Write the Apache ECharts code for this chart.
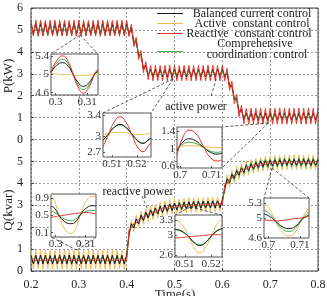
<!DOCTYPE html>
<html><head><meta charset="utf-8">
<script src="https://cdn.jsdelivr.net/npm/echarts@6/dist/echarts.min.js"></script>
<style>html,body{margin:0;padding:0;background:#fff}#c{width:327px;height:296px}</style>
</head><body><div id="c"></div>
<script>
// ---------- main plot data (t in s, P in kW, Q in kvar) ----------
const time = [
0.2,0.205,0.21,0.215,0.22,0.225,0.23,0.235,0.24,0.245,
0.25,0.255,0.26,0.265,0.27,0.275,0.28,0.285,0.29,0.295,
0.3,0.305,0.31,0.315,0.32,0.325,0.33,0.335,0.34,0.345,
0.35,0.355,0.36,0.365,0.37,0.375,0.38,0.385,0.39,0.395,
0.4,0.405,0.41,0.415,0.42,0.425,0.43,0.435,0.44,0.445,
0.45,0.455,0.46,0.465,0.47,0.475,0.48,0.485,0.49,0.495,
0.5,0.505,0.51,0.515,0.52,0.525,0.53,0.535,0.54,0.545,
0.55,0.555,0.56,0.565,0.57,0.575,0.58,0.585,0.59,0.595,
0.6,0.605,0.61,0.615,0.62,0.625,0.63,0.635,0.64,0.645,
0.65,0.655,0.66,0.665,0.67,0.675,0.68,0.685,0.69,0.695,
0.7,0.705,0.71,0.715,0.72,0.725,0.73,0.735,0.74,0.745,
0.75,0.755,0.76,0.765,0.77,0.775,0.78,0.785,0.79,0.795,
0.8];

const pReactive = [
5.44,4.72,5.45,4.71,5.44,4.72,5.43,4.73,5.44,4.72,
5.45,4.71,5.44,4.72,5.44,4.73,5.43,4.72,5.44,4.71,
5.45,4.72,5.44,4.72,5.43,4.73,5.44,4.72,5.45,4.71,
5.44,4.72,5.44,4.73,5.43,4.72,5.44,4.71,5.45,4.72,
5.44,4.70,5.26,4.24,4.66,3.64,4.06,3.05,3.55,2.73,
3.38,2.68,3.38,2.69,3.37,2.68,3.38,2.68,3.39,2.69,
3.38,2.68,3.37,2.68,3.38,2.69,3.38,2.68,3.37,2.68,
3.38,2.69,3.38,2.68,3.39,2.68,3.38,2.69,3.37,2.68,
3.38,2.68,3.25,2.25,2.66,1.64,2.06,1.04,1.56,0.72,
1.42,0.70,1.43,0.71,1.42,0.70,1.43,0.70,1.42,0.71,
1.43,0.70,1.42,0.70,1.43,0.71,1.42,0.70,1.43,0.70,
1.42,0.71,1.43,0.70,1.42,0.70,1.43,0.71,1.42,0.70,
1.43];
const pBalanced = [
5.27,4.83,5.27,4.83,5.28,4.82,5.27,4.83,5.27,4.84,
5.27,4.83,5.26,4.83,5.27,4.83,5.28,4.82,5.27,4.83,
5.27,4.83,5.27,4.84,5.27,4.83,5.26,4.83,5.27,4.83,
5.28,4.82,5.27,4.83,5.27,4.83,5.27,4.84,5.27,4.83,
5.27,4.83,5.08,4.42,4.50,3.80,3.90,3.20,3.39,2.90,
3.21,2.85,3.21,2.85,3.22,2.85,3.21,2.84,3.21,2.85,
3.21,2.85,3.20,2.85,3.21,2.85,3.22,2.85,3.21,2.84,
3.21,2.85,3.21,2.85,3.20,2.85,3.21,2.85,3.22,2.85,
3.21,2.85,3.08,2.42,2.48,1.82,1.88,1.22,1.38,0.91,
1.22,0.88,1.22,0.88,1.23,0.88,1.22,0.87,1.22,0.88,
1.22,0.88,1.22,0.88,1.23,0.88,1.22,0.88,1.22,0.87,
1.22,0.88,1.22,0.88,1.22,0.88,1.23,0.88,1.22,0.88,
1.22];
const pComprehensive = [
5.35,4.75,5.35,4.75,5.36,4.74,5.35,4.75,5.35,4.76,
5.35,4.75,5.34,4.75,5.35,4.75,5.36,4.74,5.35,4.75,
5.35,4.75,5.35,4.76,5.35,4.75,5.34,4.75,5.35,4.75,
5.36,4.74,5.35,4.75,5.35,4.75,5.35,4.76,5.35,4.75,
5.35,4.76,5.18,4.34,4.55,3.80,3.90,3.22,3.38,2.91,
3.20,2.86,3.20,2.86,3.21,2.86,3.20,2.85,3.20,2.86,
3.20,2.86,3.19,2.86,3.20,2.86,3.21,2.86,3.20,2.85,
3.20,2.86,3.20,2.86,3.19,2.86,3.20,2.86,3.21,2.86,
3.20,2.86,3.07,2.43,2.45,1.85,1.83,1.27,1.32,0.96,
1.16,0.94,1.16,0.94,1.17,0.94,1.16,0.93,1.16,0.94,
1.16,0.94,1.16,0.94,1.17,0.94,1.16,0.94,1.16,0.93,
1.16,0.94,1.16,0.94,1.16,0.94,1.17,0.94,1.16,0.94,
1.16];
const pActive = [
5.03,4.99,5.03,4.99,5.04,4.99,5.03,4.98,5.03,4.99,
5.03,4.99,5.02,4.99,5.03,4.99,5.04,4.99,5.03,4.98,
5.03,4.99,5.03,4.99,5.03,4.98,5.02,4.99,5.03,4.99,
5.04,4.99,5.03,4.99,5.03,4.98,5.03,4.99,5.03,4.99,
5.03,5.00,4.90,4.60,4.32,4.00,3.72,3.40,3.22,3.07,
3.07,3.03,3.07,3.03,3.08,3.03,3.07,3.02,3.07,3.03,
3.07,3.03,3.06,3.03,3.07,3.03,3.08,3.03,3.07,3.02,
3.07,3.03,3.07,3.03,3.06,3.03,3.07,3.03,3.08,3.03,
3.07,3.03,2.92,2.60,2.32,2.00,1.72,1.40,1.22,1.06,
1.08,1.04,1.08,1.04,1.09,1.04,1.08,1.03,1.08,1.04,
1.08,1.04,1.08,1.04,1.09,1.04,1.08,1.04,1.08,1.03,
1.08,1.04,1.08,1.04,1.08,1.04,1.09,1.04,1.08,1.04,
1.08];

const qActive = [
0.95,0.09,0.96,0.09,0.95,0.08,0.95,0.09,0.94,0.09,
0.95,0.09,0.95,0.10,0.96,0.09,0.95,0.09,0.95,0.08,
0.95,0.09,0.94,0.09,0.95,0.09,0.96,0.09,0.95,0.10,
0.95,0.09,0.95,0.08,0.95,0.09,0.94,0.09,0.95,0.09,
0.96,1.52,2.33,1.79,2.55,1.98,2.72,2.13,2.85,2.25,
2.96,2.35,3.05,2.43,3.13,2.50,3.19,2.55,3.23,2.59,
3.27,2.62,3.29,2.64,3.31,2.66,3.33,2.67,3.34,2.68,
3.35,2.69,3.36,2.70,3.36,2.71,3.37,2.71,3.38,2.72,
3.38,3.57,4.38,3.84,4.60,4.03,4.77,4.18,4.90,4.30,
5.01,4.39,5.09,4.46,5.15,4.52,5.20,4.56,5.23,4.58,
5.25,4.60,5.27,4.61,5.28,4.62,5.29,4.63,5.29,4.63,
5.29,4.63,5.30,4.63,5.29,4.62,5.29,4.63,5.29,4.63,
5.29];
const qBalanced = [
0.72,0.32,0.72,0.31,0.73,0.32,0.72,0.32,0.71,0.32,
0.72,0.32,0.72,0.33,0.72,0.32,0.73,0.31,0.72,0.32,
0.72,0.32,0.71,0.32,0.72,0.32,0.72,0.33,0.72,0.32,
0.73,0.32,0.72,0.31,0.72,0.32,0.72,0.32,0.72,0.32,
0.72,1.69,2.16,1.96,2.38,2.15,2.55,2.30,2.68,2.42,
2.79,2.52,2.88,2.60,2.96,2.67,3.02,2.72,3.06,2.76,
3.10,2.79,3.12,2.81,3.14,2.83,3.16,2.84,3.17,2.85,
3.18,2.86,3.19,2.87,3.19,2.88,3.20,2.88,3.21,2.89,
3.21,3.77,4.18,4.04,4.40,4.23,4.57,4.38,4.70,4.50,
4.81,4.59,4.89,4.66,4.95,4.72,5.00,4.76,5.03,4.78,
5.05,4.80,5.07,4.81,5.08,4.82,5.09,4.83,5.09,4.83,
5.09,4.83,5.09,4.83,5.10,4.83,5.09,4.82,5.09,4.83,
5.09];
const qComprehensive = [
0.62,0.41,0.62,0.41,0.63,0.41,0.62,0.40,0.62,0.41,
0.62,0.41,0.61,0.41,0.62,0.41,0.63,0.41,0.62,0.40,
0.62,0.41,0.62,0.41,0.62,0.40,0.61,0.41,0.62,0.41,
0.63,0.41,0.62,0.41,0.62,0.40,0.62,0.41,0.62,0.41,
0.62,1.70,2.15,1.97,2.37,2.16,2.54,2.31,2.67,2.43,
2.78,2.53,2.87,2.61,2.95,2.68,3.01,2.73,3.05,2.77,
3.09,2.80,3.11,2.82,3.13,2.84,3.15,2.85,3.16,2.86,
3.17,2.87,3.18,2.88,3.18,2.89,3.19,2.89,3.20,2.90,
3.20,3.70,4.25,3.97,4.47,4.16,4.64,4.31,4.77,4.43,
4.88,4.52,4.96,4.59,5.02,4.65,5.07,4.69,5.10,4.71,
5.12,4.73,5.14,4.74,5.15,4.75,5.16,4.76,5.16,4.76,
5.16,4.76,5.17,4.76,5.16,4.75,5.16,4.76,5.16,4.76,
5.16];
const qReactive = [
0.47,0.55,0.47,0.55,0.48,0.55,0.47,0.54,0.47,0.55,
0.47,0.55,0.46,0.55,0.47,0.55,0.48,0.55,0.47,0.54,
0.47,0.55,0.47,0.55,0.47,0.54,0.46,0.55,0.47,0.55,
0.48,0.55,0.47,0.55,0.47,0.54,0.47,0.55,0.47,0.55,
0.47,1.89,1.96,2.16,2.18,2.35,2.35,2.50,2.48,2.62,
2.59,2.72,2.68,2.80,2.76,2.87,2.82,2.92,2.86,2.96,
2.90,2.99,2.92,3.01,2.94,3.03,2.96,3.04,2.97,3.05,
2.98,3.06,2.99,3.07,2.99,3.08,3.00,3.08,3.01,3.09,
3.01,3.94,4.01,4.21,4.23,4.40,4.40,4.55,4.53,4.67,
4.64,4.76,4.72,4.83,4.78,4.89,4.83,4.93,4.86,4.95,
4.88,4.97,4.90,4.98,4.91,4.99,4.92,5.00,4.92,5.00,
4.92,5.00,4.92,5.00,4.92,5.00,4.92,5.00,4.92,5.00,
4.92];

// main axis tick labels (P panel above Q panel on one shared scale)
const yTickLabels = ['0','1','2','3','4','5','0','1','2','3','4','5','6'];
const legendNames = ['Balanced current control','Active  constant control','Reactive  constant control','Comprehensive','coordination  control'];

// ---------- zoom insets ----------
const i1Time = [0.2985,0.3003,0.3022,0.3040,0.3055,0.3071,0.3088,0.3106,0.3125,0.3135];
const i1Reactive = [5.06,5.30,5.41,5.28,5.02,4.73,4.59,4.72,5.02,5.12];
const i1Comprehensive = [5.05,5.25,5.33,5.23,5.01,4.78,4.67,4.77,5.01,5.09];
const i1Balanced = [5.04,5.20,5.26,5.18,5.01,4.83,4.74,4.82,5.01,5.07];
const i1Active = [5.02,5.01,5.00,5.00,4.99,4.98,4.98,4.99,5.01,5.02];
const i1XTicks = [0.3,0.31], i1YTicks = [4.6,5,5.4];

const i2Time = [0.5065,0.5087,0.5110,0.5133,0.5156,0.5180,0.5203,0.5225,0.5245,0.5257];
const i2Reactive = [2.80,3.03,3.27,3.37,3.27,3.03,2.79,2.70,2.80,2.88];
const i2Comprehensive = [2.92,3.04,3.16,3.21,3.16,3.04,2.92,2.87,2.92,2.96];
const i2Balanced = [2.92,3.04,3.17,3.22,3.17,3.04,2.91,2.86,2.92,2.96];
const i2Active = [3.03,3.05,3.07,3.07,3.06,3.04,3.03,3.03,3.04,3.05];
const i2XTicks = [0.51,0.52], i2YTicks = [2.7,3,3.4];

const i3Time = [0.6990,0.7008,0.7028,0.7050,0.7073,0.7096,0.7120,0.7133];
const i3Reactive = [0.85,1.25,1.43,1.35,1.07,0.80,0.72,0.76];
const i3Comprehensive = [1.00,1.10,1.15,1.12,1.04,0.95,0.92,0.94];
const i3Balanced = [0.95,1.15,1.23,1.18,1.04,0.92,0.88,0.90];
const i3Active = [1.05,1.06,1.07,1.07,1.05,1.04,1.03,1.04];
const i3XTicks = [0.7,0.71], i3YTicks = [0.6,1,1.4];

const i4Time = [0.2985,0.2998,0.3010,0.3030,0.3050,0.3068,0.3083,0.3104,0.3125,0.3135];
const i4Active = [0.95,0.82,0.52,0.20,0.08,0.20,0.52,0.85,0.95,0.93];
const i4Balanced = [0.72,0.66,0.52,0.36,0.31,0.36,0.52,0.68,0.73,0.72];
const i4Comprehensive = [0.60,0.57,0.51,0.42,0.38,0.42,0.52,0.60,0.62,0.61];
const i4Reactive = [0.46,0.47,0.49,0.51,0.53,0.55,0.56,0.57,0.55,0.53];
const i4XTicks = [0.3,0.31], i4YTicks = [0.1,0.5,0.9];

const i5Time = [0.5063,0.5080,0.5098,0.5115,0.5136,0.5157,0.5178,0.5200,0.5222,0.5241];
const i5Active = [3.30,3.26,3.15,2.97,2.75,2.65,2.75,2.98,3.22,3.32];
const i5Balanced = [3.12,3.10,3.05,2.97,2.85,2.80,2.85,2.98,3.09,3.13];
const i5Comprehensive = [3.11,3.09,3.04,2.97,2.86,2.81,2.86,2.98,3.08,3.12];
const i5Reactive = [2.95,2.95,2.96,2.97,2.98,2.99,3.00,3.01,3.01,3.01];
const i5XTicks = [0.51,0.52], i5YTicks = [2.6,3,3.3];

const i6Time = [0.6986,0.7004,0.7022,0.7043,0.7065,0.7085,0.7105,0.7120,0.7129];
const i6Active = [5.29,5.18,4.95,4.72,4.64,4.72,4.97,5.13,5.20];
const i6Comprehensive = [5.16,5.08,4.94,4.79,4.73,4.79,4.96,5.07,5.12];
const i6Balanced = [5.08,5.03,4.94,4.83,4.79,4.83,4.96,5.03,5.06];
const i6Reactive = [4.96,4.95,4.94,4.95,4.97,4.99,5.00,5.02,5.03];
const i6XTicks = [0.7,0.71], i6YTicks = [4.6,5,5.3];

// points on the main curves that each inset magnifies (t, value)
const zoomSpots = [[0.3025,4.77],[0.497,2.76],[0.696,0.75],[0.296,0.95],[0.533,2.92],[0.704,4.70]];

// ---------- build ----------
const F = '"Liberation Serif","Times New Roman",serif';
const COL = {bal:'#1a1a1a', act:'#f3b94e', rea:'#e3322a', com:'#3fae4c'};
const P_OFF = 6;
const chart = echarts.init(document.getElementById('c'));

const drawOrder = [
  {key:'act', p:pActive, q:qActive},
  {key:'com', p:pComprehensive, q:qComprehensive},
  {key:'bal', p:pBalanced, q:qBalanced},
  {key:'rea', p:pReactive, q:qReactive}
];

const grids = [{left:31, top:8, width:287, height:263, show:true, borderColor:'#444', borderWidth:1,
  backgroundColor:'transparent', z:1, containLabel:false, outerBoundsMode:'none'}];
const xAxes = [{
  type:'value', gridIndex:0, min:0.2, max:0.8, interval:0.1,
  axisLine:{show:false},
  axisTick:{show:true, inside:true, length:3, lineStyle:{color:'#444'}},
  splitLine:{show:true, lineStyle:{type:[2,2], color:'#9a9a9a', width:1}},
  axisLabel:{fontFamily:F, fontSize:12, color:'#222', margin:8, formatter:v=>String(+v.toFixed(1))}
}];
const yAxes = [{
  type:'value', gridIndex:0, min:0, max:12, interval:1,
  axisLine:{show:false},
  axisTick:{show:true, inside:true, length:3, lineStyle:{color:'#444'}},
  splitLine:{show:true, lineStyle:{type:[2,2], color:'#9a9a9a', width:1}},
  axisLabel:{fontFamily:F, fontSize:12, color:'#222', margin:8, formatter:v=>yTickLabels[Math.round(v)]}
}];
const series = [];
drawOrder.forEach(s => {
  series.push({type:'line', xAxisIndex:0, yAxisIndex:0, data:time.map((t,i)=>[t, s.p[i]+P_OFF]),
    showSymbol:false, silent:true, lineStyle:{color:COL[s.key], width:1}, z:3});
  series.push({type:'line', xAxisIndex:0, yAxisIndex:0, data:time.map((t,i)=>[t, s.q[i]]),
    showSymbol:false, silent:true, lineStyle:{color:COL[s.key], width:1}, z:3});
});

const insets = [
  {rect:[51,54,47,41], xr:[0.2985,0.3135], yr:[4.55,5.45], xt:i1XTicks, yt:i1YTicks, t:i1Time,
   d:{act:i1Active, com:i1Comprehensive, bal:i1Balanced, rea:i1Reactive}, panel:'P', link:['tl','tr']},
  {rect:[103,113,48,44], xr:[0.5065,0.5257], yr:[2.6,3.44], xt:i2XTicks, yt:i2YTicks, t:i2Time,
   d:{act:i2Active, com:i2Comprehensive, bal:i2Balanced, rea:i2Reactive}, panel:'P', link:['tl','tr']},
  {rect:[177,127,45,41], xr:[0.699,0.7133], yr:[0.56,1.5], xt:i3XTicks, yt:i3YTicks, t:i3Time,
   d:{act:i3Active, com:i3Comprehensive, bal:i3Balanced, rea:i3Reactive}, panel:'P', link:['tr','br']},
  {rect:[51,194,45,43], xr:[0.2985,0.3135], yr:[0,1], xt:i4XTicks, yt:i4YTicks, t:i4Time,
   d:{act:i4Active, com:i4Comprehensive, bal:i4Balanced, rea:i4Reactive}, panel:'Q', link:['bl','br']},
  {rect:[175,215,47,42], xr:[0.5063,0.5241], yr:[2.57,3.4], xt:i5XTicks, yt:i5YTicks, t:i5Time,
   d:{act:i5Active, com:i5Comprehensive, bal:i5Balanced, rea:i5Reactive}, panel:'Q', link:['tl','tr']},
  {rect:[264,198,45,40], xr:[0.6986,0.7129], yr:[4.6,5.4], xt:i6XTicks, yt:i6YTicks, t:i6Time,
   d:{act:i6Active, com:i6Comprehensive, bal:i6Balanced, rea:i6Reactive}, panel:'Q', link:['tl','tr']}
];
const fmt = v => String(+(+v).toFixed(3));
insets.forEach((ins, k) => {
  const gi = k + 1;
  const [l,t,w,h] = ins.rect;
  grids.push({left:l, top:t, width:w, height:h, show:true, backgroundColor:'#fff', borderColor:'#555',
    borderWidth:1, z:10, containLabel:false, outerBoundsMode:'none'});
  xAxes.push({type:'value', gridIndex:gi, min:ins.xr[0], max:ins.xr[1], z:12,
    axisLine:{show:false}, splitLine:{show:false},
    axisTick:{show:true, inside:true, length:2, customValues:ins.xt, lineStyle:{color:'#555'}},
    axisLabel:{customValues:ins.xt, formatter:fmt, fontFamily:F, fontSize:11, color:'#333', margin:2}});
  yAxes.push({type:'value', gridIndex:gi, min:ins.yr[0], max:ins.yr[1], z:12,
    axisLine:{show:false}, splitLine:{show:false},
    axisTick:{show:true, inside:true, length:2, customValues:ins.yt, lineStyle:{color:'#555'}},
    axisLabel:{customValues:ins.yt, formatter:fmt, fontFamily:F, fontSize:11, color:'#333', margin:2}});
  ['act','com','bal','rea'].forEach(key => {
    series.push({type:'line', xAxisIndex:gi, yAxisIndex:gi, data:ins.t.map((x,i)=>[x, ins.d[key][i]]),
      smooth:true, showSymbol:false, silent:true, clip:true, lineStyle:{color:COL[key], width:1}, z:11});
  });
});

chart.setOption({animation:false, grid:grids, xAxis:xAxes, yAxis:yAxes, series:series});

// ---------- annotations ----------
const g = [];
const dash = {stroke:'#333', lineWidth:0.8, lineDash:[3,2]};
insets.forEach((ins, k) => {
  const s = zoomSpots[k];
  const a = chart.convertToPixel({gridIndex:0}, [s[0], s[1] + (ins.panel === 'P' ? P_OFF : 0)]);
  const [l,t,w,h] = ins.rect;
  const corner = {tl:[l,t], tr:[l+w,t], bl:[l,t+h], br:[l+w,t+h]};
  ins.link.forEach(c => {
    g.push({type:'line', z:20, shape:{x1:a[0], y1:a[1], x2:corner[c][0], y2:corner[c][1]}, style:dash});
  });
});
// label pointers
const ap0 = chart.convertToPixel({gridIndex:0}, [0.5766, 1.99 + P_OFF]);
const ap1 = chart.convertToPixel({gridIndex:0}, [0.589, 2.9 + P_OFF]);
g.push({type:'line', z:20, shape:{x1:ap0[0], y1:ap0[1], x2:ap1[0], y2:ap1[1]}, style:dash});
const rp0 = chart.convertToPixel({gridIndex:0}, [0.432, 3.42]);
const rp1 = chart.convertToPixel({gridIndex:0}, [0.445, 2.78]);
g.push({type:'line', z:20, shape:{x1:rp0[0], y1:rp0[1], x2:rp1[0], y2:rp1[1]}, style:dash});
g.push({type:'text', z:20, x:196, y:107, style:{text:'active power', font:'12px '+F, fill:'#222', textAlign:'center', textVerticalAlign:'middle'}});
g.push({type:'text', z:20, x:138, y:192, style:{text:'reactive power', font:'12px '+F, fill:'#222', textAlign:'center', textVerticalAlign:'middle'}});
// axis titles
g.push({type:'text', z:20, x:9, y:76, rotation:Math.PI/2, style:{text:'P(kW)', font:'13px '+F, fill:'#222', textAlign:'center', textVerticalAlign:'middle'}});
g.push({type:'text', z:20, x:9, y:210, rotation:Math.PI/2, style:{text:'Q(kvar)', font:'13px '+F, fill:'#222', textAlign:'center', textVerticalAlign:'middle'}});
g.push({type:'text', z:20, x:175, y:288, style:{text:'Time(s)', font:'13px '+F, fill:'#222', textAlign:'center', textVerticalAlign:'top'}});
// legend
const legLines = [[13.5,'bal'],[23.5,'act'],[33.5,'rea'],[51.5,'com']];
legLines.forEach(([y,key]) => g.push({type:'line', z:20, shape:{x1:157, y1:y, x2:183, y2:y}, style:{stroke:COL[key], lineWidth:1}}));
const legText = [[252,14],[252,24],[249,34],[255,44],[257,54.5]];
legendNames.forEach((n,i) => g.push({type:'text', z:20, x:legText[i][0], y:legText[i][1],
  style:{text:n, font:'12px '+F, fill:'#222', textAlign:'center', textVerticalAlign:'middle'}}));

chart.setOption({graphic:g});
</script>
</body></html>
